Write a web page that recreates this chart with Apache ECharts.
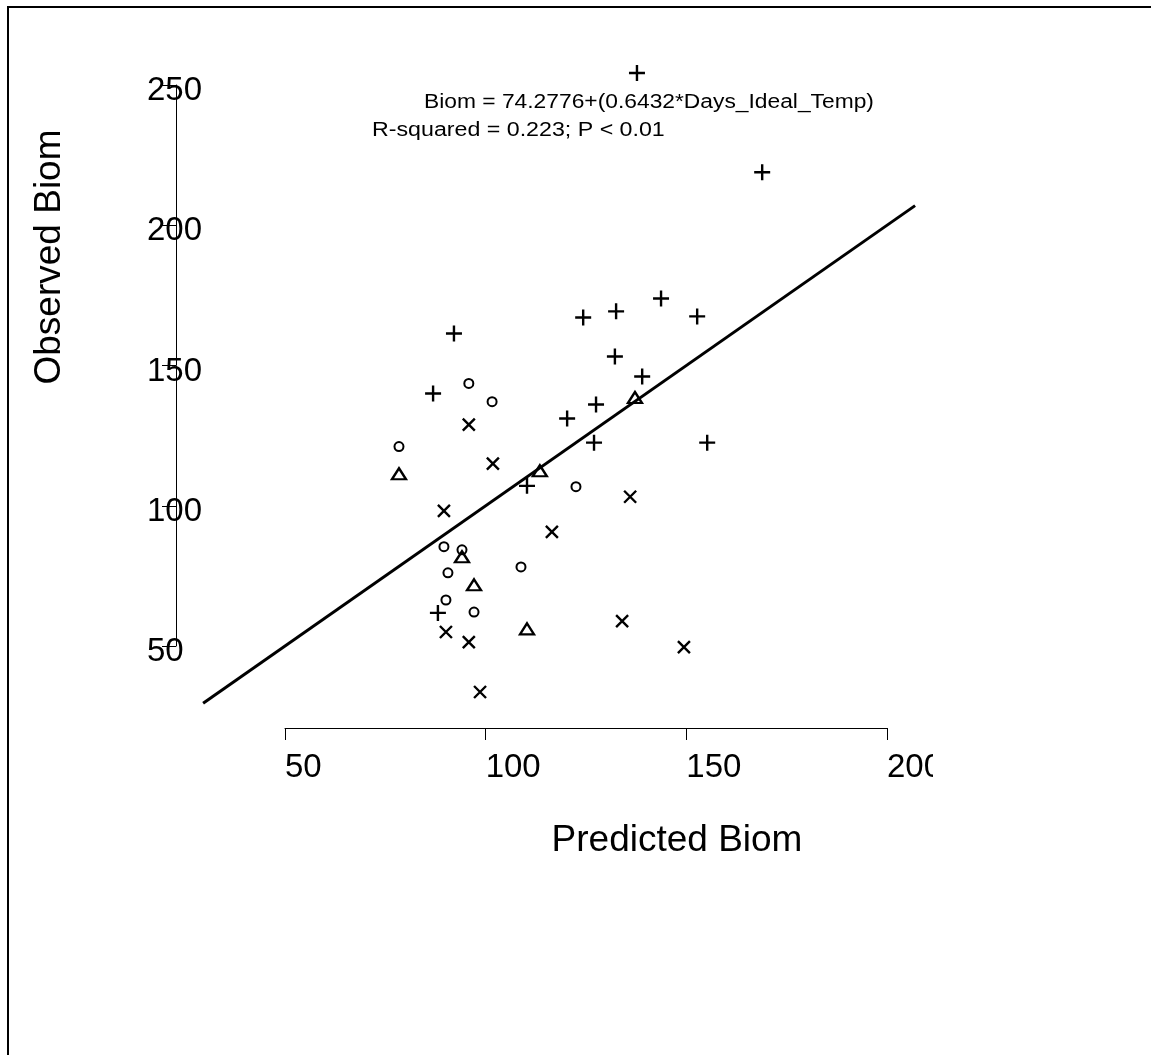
<!DOCTYPE html>
<html>
<head>
<meta charset="utf-8">
<title>Observed vs Predicted Biom</title>
<script src="https://cdn.jsdelivr.net/npm/echarts/dist/echarts.min.js"></script>
<style>
  html, body { margin: 0; padding: 0; background: #fff; }
  #chart { width: 1151px; height: 1055px; }
</style>
</head>
<body>
<div id="chart"></div>
<script>
// Axis tick values
const xTicks = [50, 100, 150, 200];
const yTicks = [50, 100, 150, 200, 250];

// Points as [predicted, observed], one array per group
const plusPts = [
  [137.7, 254.3], [168.9, 218.9], [143.7, 173.9], [124.3, 167.1],
  [132.5, 169.3], [152.7, 167.5], [92.1, 161.4], [132.2, 153.2],
  [139.0, 146.1], [86.9, 140.0], [127.5, 136.1], [120.3, 131.1],
  [127.0, 122.5], [155.2, 122.5], [110.3, 107.1], [88.1, 61.8]
];
const crossPts = [
  [95.8, 128.9], [101.8, 115.0], [136.0, 103.2], [89.6, 98.2],
  [116.5, 90.7], [134.0, 58.9], [90.1, 55.0], [95.8, 51.4],
  [149.4, 49.6], [98.6, 33.6]
];
const circlePts = [
  [95.8, 143.6], [101.6, 137.1], [78.4, 121.1], [122.5, 106.8],
  [89.6, 85.4], [94.1, 84.3], [90.6, 76.1], [108.8, 78.2],
  [90.1, 66.4], [97.1, 62.1]
];
const trianglePts = [
  [137.2, 138.6], [78.4, 111.4], [113.5, 112.5], [94.1, 81.8],
  [97.1, 71.8], [110.3, 56.1]
];
// 1:1 reference line endpoints
const oneToOne = [[29.6, 29.6], [207, 207]];

const equationText = 'Biom = 74.2776+(0.6432*Days_Ideal_Temp)';
const statsText = 'R-squared = 0.223; P < 0.01';
const xTitle = 'Predicted Biom';
const yTitle = 'Observed Biom';

const FONT = '"Liberation Sans", Arial, Helvetica, sans-serif';
const INK = '#000';

// Pixel geometry of the labelled axes
const AX = { left: 285, top: 85, width: 602, height: 561 };
const xMin = xTicks[0], xMax = xTicks[xTicks.length - 1];
const yMin = yTicks[0], yMax = yTicks[yTicks.length - 1];
const pxPerX = AX.width / (xMax - xMin);
const pxPerY = AX.height / (yMax - yMin);
// The plotting grid uses the same scale but a wider range so marks may
// fall beyond the labelled tick span.
const pad = 25;
const plotGrid = {
  left: AX.left - pad * pxPerX,
  top: AX.top - pad * pxPerY,
  width: AX.width + 2 * pad * pxPerX,
  height: AX.height + 2 * pad * pxPerY,
  containLabel: false
};

const chart = echarts.init(document.getElementById('chart'), null, { renderer: 'canvas' });

function markerSeries(data, symbol, size, width) {
  return {
    type: 'scatter',
    xAxisIndex: 1, yAxisIndex: 1,
    data: data,
    symbol: symbol,
    symbolSize: size,
    clip: false,
    itemStyle: { color: 'transparent', borderColor: INK, borderWidth: width, opacity: 1 },
    emphasis: { disabled: true },
    z: 3
  };
}

const hiddenAxis = {
  type: 'value', gridIndex: 1,
  axisLine: { show: false }, axisTick: { show: false },
  axisLabel: { show: false }, splitLine: { show: false }
};

const option = {
  animation: false,
  backgroundColor: '#fff',
  grid: [
    Object.assign({ containLabel: false }, AX),
    plotGrid
  ],
  xAxis: [
    {
      type: 'value', gridIndex: 0,
      min: xMin, max: xMax,
      interval: xTicks[1] - xTicks[0],
      offset: 82,
      splitLine: { show: false },
      axisLine: { show: true, lineStyle: { color: INK, width: 1 } },
      axisTick: { show: true, inside: false, length: 12, lineStyle: { color: INK, width: 1 } },
      axisLabel: {
        show: true, align: 'left', margin: 23,
        color: INK, fontSize: 33, fontFamily: FONT,
        showMinLabel: true, showMaxLabel: true
      }
    },
    Object.assign({}, hiddenAxis, { min: xMin - pad, max: xMax + pad })
  ],
  yAxis: [
    {
      type: 'value', gridIndex: 0,
      min: yMin, max: yMax,
      interval: yTicks[1] - yTicks[0],
      offset: 109,
      splitLine: { show: false },
      axisLine: { show: true, lineStyle: { color: INK, width: 1 } },
      axisTick: { show: true, inside: false, length: 14, lineStyle: { color: INK, width: 1 } },
      axisLabel: {
        show: true, align: 'left', margin: 29,
        color: INK, fontSize: 33, fontFamily: FONT,
        // labels sit a little below their ticks
        formatter: function (v) { return '\n' + v; },
        lineHeight: 12,
        showMinLabel: true, showMaxLabel: true
      }
    },
    Object.assign({}, hiddenAxis, { min: yMin - pad, max: yMax + pad })
  ],
  series: [
    {
      type: 'line',
      xAxisIndex: 1, yAxisIndex: 1,
      data: oneToOne,
      symbol: 'none',
      clip: false,
      lineStyle: { color: INK, width: 3 },
      emphasis: { disabled: true },
      z: 2
    },
    markerSeries(plusPts, 'path://M8,0L8,16M0,8L16,8', 16, 2.4),
    markerSeries(crossPts, 'path://M0,0L12,12M0,12L12,0', 12, 2.4),
    markerSeries(circlePts, 'circle', 9, 2),
    markerSeries(trianglePts, 'triangle', [14, 11], 2.3)
  ],
  graphic: [
    {
      type: 'rect', z: 0, silent: true,
      shape: { x: 8, y: 7, width: 1300, height: 1200 },
      style: { fill: 'none', stroke: INK, lineWidth: 2 }
    },
    {
      type: 'rect', z: 100, silent: true,
      shape: { x: 933, y: 742, width: 70, height: 50 },
      style: { fill: '#fff', stroke: null }
    },
    {
      type: 'text', z: 50, silent: true,
      x: 424, y: 102, scaleX: 1.14,
      style: { text: equationText, font: '20px ' + FONT, fill: INK, textAlign: 'left', textVerticalAlign: 'middle' }
    },
    {
      type: 'text', z: 50, silent: true,
      x: 372, y: 130, scaleX: 1.16,
      style: { text: statsText, font: '20px ' + FONT, fill: INK, textAlign: 'left', textVerticalAlign: 'middle' }
    },
    {
      type: 'text', z: 50, silent: true,
      x: 677, y: 841,
      style: { text: xTitle, font: '37px ' + FONT, fill: INK, textAlign: 'center', textVerticalAlign: 'middle' }
    },
    {
      type: 'text', z: 50, silent: true,
      x: 50, y: 257, rotation: Math.PI / 2,
      style: { text: yTitle, font: '37px ' + FONT, fill: INK, textAlign: 'center', textVerticalAlign: 'middle' }
    }
  ]
};

chart.setOption(option);
</script>
</body>
</html>
